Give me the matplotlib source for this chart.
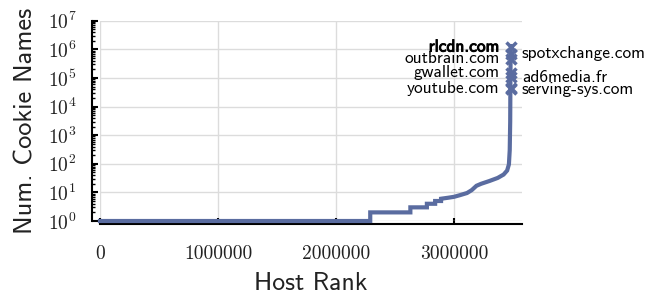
import matplotlib
matplotlib.use("Agg")
import matplotlib.pyplot as plt
import matplotlib.patheffects as pe
from matplotlib.ticker import LogLocator, NullFormatter

plt.rcParams['font.family'] = ['cmr10', 'DejaVu Serif']
plt.rcParams['mathtext.fontset'] = 'cm'
plt.rcParams['axes.formatter.use_mathtext'] = True
plt.rcParams['axes.unicode_minus'] = False

# data
ranks = [0, 2290000, 2290000, 2630000, 2630000, 2770000, 2770000, 2840000, 2840000,
         2890000, 2890000, 2950000, 3000000, 3050000, 3110000, 3150000, 3190000,
         3230000, 3300000, 3370000, 3420000, 3450000, 3465000, 3472000, 3476000,
         3478000, 3480000]
counts = [1, 1, 2, 2, 3, 3, 4, 4, 5, 5, 6, 6.5, 7, 8, 9.5, 12, 17, 20, 25, 32, 42,
          58, 95, 300, 3000, 100000, 1300000]

top_hosts = ["rlcdn.com", "spotxchange.com", "outbrain.com", "gwallet.com",
             "ad6media.fr", "youtube.com", "serving-sys.com"]
top_counts = [1200000, 700000, 460000, 150000, 107000, 44000, 41000]
top_rank = 3480000
label_side = ["left", "right", "left", "left", "right", "left", "right"]

xticks = [0, 1000000, 2000000, 3000000]
xticklabels = ["0", "1000000", "2000000", "3000000"]

color = '#5a6ca0'

fig = plt.figure(figsize=(6.5, 2.97), dpi=100)
ax = fig.add_axes([100/650, 1-221/297, 422/650, (221-20.7)/297])

ax.plot(ranks, counts, color=color, lw=3, clip_on=False, zorder=3,
        solid_joinstyle='miter')
ax.plot([top_rank]*len(top_counts), top_counts, 'x', color=color, ms=7, mew=2.5,
        zorder=4, clip_on=False)

for h, c, side in zip(top_hosts, top_counts, label_side):
    kw = dict(textcoords='offset points', va='center', fontsize=12.5, family='cmss10')
    if h == "rlcdn.com":
        kw['path_effects'] = [pe.withStroke(linewidth=0.7, foreground='black')]
    if side == "left":
        ax.annotate(h, (top_rank, c), xytext=(-8, 0), ha='right', **kw)
    else:
        ax.annotate(h, (top_rank, c), xytext=(8, 0), ha='left', **kw)

ax.set_yscale('log')
ax.set_ylim(1, 1e7)
ax.set_xlim(0, 3576000)
ax.yaxis.set_major_locator(LogLocator(base=10, numticks=10))
ax.yaxis.set_minor_locator(LogLocator(base=10, subs=range(2, 10), numticks=10))
ax.yaxis.set_minor_formatter(NullFormatter())
ax.set_xticks(xticks)
ax.set_xticklabels(xticklabels)

ax.grid(True, which='major', color='#dcdcdc', lw=1)
ax.set_axisbelow(True)
for s in ['top', 'right']:
    ax.spines[s].set_visible(False)
ax.spines['left'].set_position(('outward', 6))
ax.spines['bottom'].set_position(('outward', 2.5))
ax.spines['left'].set_linewidth(1.5)
ax.spines['bottom'].set_linewidth(1.5)
ax.tick_params(axis='both', which='major', direction='in', length=4, width=1.5,
               labelsize=14, labelcolor='#222222')
ax.tick_params(axis='y', which='minor', direction='in', length=2, width=1)
ax.tick_params(axis='x', which='major', pad=15)
ax.tick_params(axis='y', which='major', pad=11)

ax.set_xlabel("Host Rank", family='cmss10', fontsize=18.5, labelpad=6, color='#222222')
ax.set_ylabel("Num. Cookie Names", family='cmss10', fontsize=19, labelpad=7, color='#222222')

fig.savefig("out.png", dpi=100)
